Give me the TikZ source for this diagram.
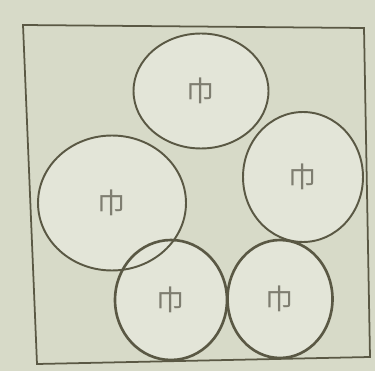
\documentclass[tikz,border=0pt]{standalone}
\usepackage{fontspec}
\newfontfamily\cjk{Noto Sans CJK SC}
\usetikzlibrary{shapes.geometric}
\definecolor{paper}{HTML}{D7DAC8}
\definecolor{inkline}{HTML}{5A5844}
\definecolor{inktext}{HTML}{7E7D70}
\begin{document}
\begin{tikzpicture}[
	x=0.02cm, y=-0.02cm,
	cell/.style={
		ellipse,
		draw=inkline,
		line width=1.1pt,
		inner sep=0pt,
		font=\cjk\fontsize{16}{16}\selectfont,
		text=inktext
	},
	heavy/.style={line width=1.5pt}
	]
	% paper
	\fill[paper] (0,0) rectangle (375,371);
	\useasboundingbox (0,0) rectangle (375,371);
	
	% frame
	\coordinate (tl) at (23,25);
	\coordinate (tr) at (364,28);
	\coordinate (br) at (370,357);
	\coordinate (bl) at (37,364);
	\draw[inkline, line width=1pt] (tl) -- (tr) -- (br) -- (bl) -- cycle;
	
	% rooms (light inside)
	\fill[paper!70!white] (201,91) ellipse [x radius=67, y radius=57]
		(112,203) ellipse [x radius=74, y radius=67]
		(303,177) ellipse [x radius=60, y radius=65]
		(171,300) ellipse [x radius=56, y radius=60]
		(280,299) ellipse [x radius=52, y radius=59];
	\node[cell, minimum width=2.7cm, minimum height=2.3cm] (top) at (201,91) {巾};
	\node[cell, minimum width=2.96cm, minimum height=2.7cm] (left) at (112,203) {巾};
	\node[cell, minimum width=2.4cm, minimum height=2.6cm] (right) at (303,177) {巾};
	\node[cell, heavy, minimum width=2.24cm, minimum height=2.4cm] (lowleft) at (171,300) {巾};
	\node[cell, heavy, minimum width=2.1cm, minimum height=2.36cm] (lowright) at (280,299) {巾};
\end{tikzpicture}
\end{document}
